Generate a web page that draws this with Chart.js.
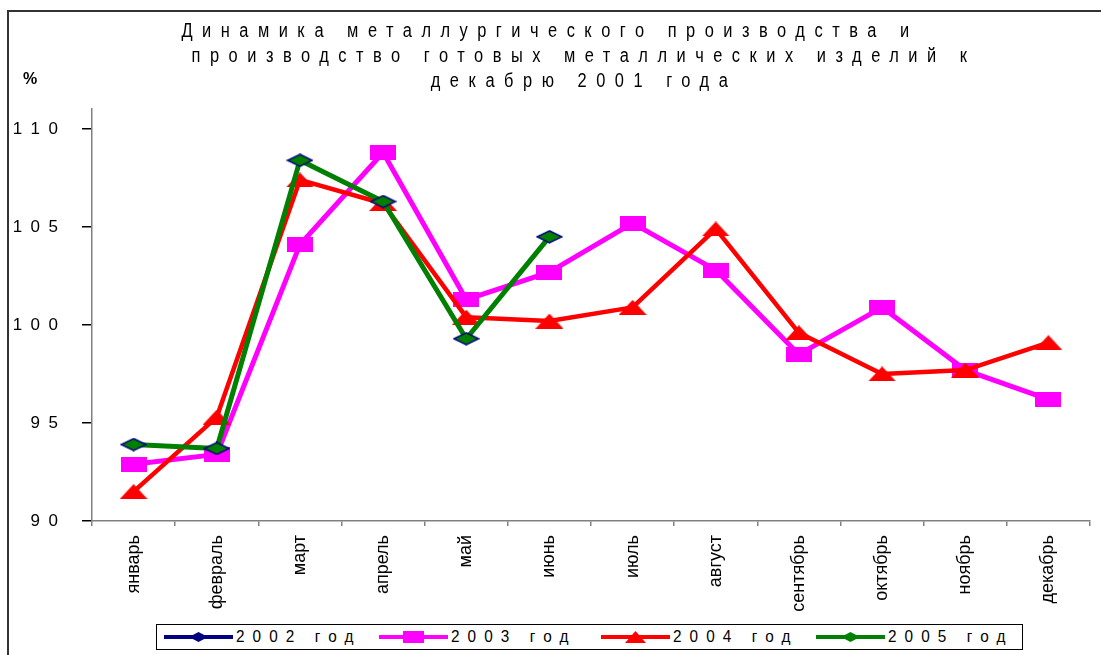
<!DOCTYPE html>
<html lang="ru">
<head>
<meta charset="utf-8">
<title>Динамика металлургического производства</title>
<script src="https://cdn.jsdelivr.net/npm/chart.js@4.4.1/dist/chart.umd.min.js"></script>
<style>
    html, body { margin: 0; padding: 0; background: #fff; }
    #wrap {
        position: relative;
        width: 1101px;
        height: 655px;
        overflow: hidden;
        font-family: "Liberation Sans", Arial, sans-serif;
        color: #000;
    }
    #frame {
        position: absolute;
        left: 7px;
        top: 10px;
        width: 1200px;
        height: 800px;
        border-left: 2px solid #333;
        border-top: 2px solid #333;
    }
    #chart { position: absolute; left: 0; top: 0; }
    .title-line {
        position: absolute;
        transform: translateX(-50%) scaleX(0.82);
        white-space: nowrap;
        font-size: 20px;
        letter-spacing: 11.6px;
        line-height: 22px;
    }
    #pct {
        position: absolute;
        left: 23px;
        top: 70px;
        font: bold 16px "Liberation Sans", Arial, sans-serif;
    }
    #legend {
        position: absolute;
        left: 156px;
        top: 624px;
        width: 867px;
        height: 26px;
        border: 1px solid #000;
        box-sizing: border-box;
        background: #fff;
    }
    .item { position: absolute; top: 0; height: 24px; }
    .item .line { position: absolute; left: 0; top: 10px; width: 69px; height: 4px; }
    .item canvas { position: absolute; left: 24px; top: 6px; }
    .item .txt {
        position: absolute;
        left: 72px;
        top: 1px;
        white-space: nowrap;
        font-size: 17px;
        letter-spacing: 9px;
        line-height: 22px;
        transform-origin: left center;
        transform: scaleX(0.9);
    }
</style>
</head>
<body>
<div id="wrap">
    <div id="frame"></div>
    <canvas id="chart" width="1101" height="655"></canvas>
    <div class="title-line" style="left:550px; top:19px;">Динамика металлургического производства и</div>
    <div class="title-line" style="left:584px; top:44px;">производство готовых металлических изделий к</div>
    <div class="title-line" style="left:584px; top:69px;">декабрю 2001 года</div>
    <div id="pct">%</div>
    <div id="legend"></div>
</div>
<script>
const months = ['январь', 'февраль', 'март', 'апрель', 'май', 'июнь',
    'июль', 'август', 'сентябрь', 'октябрь', 'ноябрь', 'декабрь'];

const seriesNames = ['2002 год', '2003 год', '2004 год', '2005 год'];

// 2002 has no visible points on the chart, only a legend entry
const values2002 = [];
const values2003 = [92.9, 93.4, 104.1, 108.8, 101.3, 102.7, 105.2, 102.8, 98.5, 100.9, 97.7, 96.2];
const values2004 = [91.5, 95.3, 107.4, 106.2, 100.4, 100.2, 100.9, 104.9, 99.6, 97.5, 97.7, 99.1];
const values2005 = [93.9, 93.7, 108.4, 106.3, 99.3, 104.5, null, null, null, null, null, null];

const yTicks = [90, 95, 100, 105, 110];

(function () {
    function makeMarker(shape, w, h, fill, stroke) {
        const c = document.createElement('canvas');
        c.width = w;
        c.height = h;
        const g = c.getContext('2d');
        g.fillStyle = fill;
        g.beginPath();
        if (shape === 'square') {
            g.rect(0, 0, w, h);
        } else if (shape === 'triangle') {
            g.moveTo(w / 2, 0);
            g.lineTo(w, h);
            g.lineTo(0, h);
        } else {
            g.moveTo(w / 2, 1);
            g.lineTo(w - 1, h / 2);
            g.lineTo(w / 2, h - 1);
            g.lineTo(1, h / 2);
        }
        g.closePath();
        g.fill();
        if (stroke) {
            g.strokeStyle = stroke;
            g.lineWidth = 1.5;
            g.stroke();
        }
        return c;
    }

    const styles = [
        { color: '#000080', shape: 'diamond', fill: '#000080', stroke: null, width: 5, w: 27, h: 14 },
        { color: '#FF00FF', shape: 'square', fill: '#FF00FF', stroke: null, width: 5, w: 26, h: 15 },
        { color: '#FF0000', shape: 'triangle', fill: '#FF0000', stroke: null, width: 4.5, w: 28, h: 15 },
        { color: '#008000', shape: 'diamond', fill: '#008000', stroke: '#000080', width: 5, w: 27, h: 14 },
    ];
    const allValues = [values2002, values2003, values2004, values2005];

    const datasets = allValues.map((vals, i) => {
        const s = styles[i];
        return {
            label: seriesNames[i],
            data: vals,
            borderColor: s.color,
            backgroundColor: s.fill,
            borderWidth: s.width,
            tension: 0,
            fill: false,
            spanGaps: false,
            pointStyle: makeMarker(s.shape, s.w, s.h, s.fill, s.stroke),
            pointRadius: 8,
            borderJoinStyle: 'round',
            // later years are drawn on top
            order: 3 - i,
        };
    });

    const ctx = document.getElementById('chart').getContext('2d');

    new Chart(ctx, {
        type: 'line',
        data: { labels: months, datasets },
        options: {
            responsive: false,
            animation: false,
            layout: {
                autoPadding: false,
                padding: { top: 109, right: 11, bottom: 0, left: 0 },
            },
            plugins: {
                legend: { display: false },
                title: { display: false },
                tooltip: { enabled: false },
            },
            scales: {
                x: {
                    offset: true,
                    grid: {
                        offset: true,
                        drawOnChartArea: false,
                        tickLength: 5,
                        color: '#808080',
                        lineWidth: 1.5,
                    },
                    border: { color: '#808080', width: 1.5 },
                    ticks: {
                        autoSkip: false,
                        minRotation: 90,
                        maxRotation: 90,
                        padding: 9,
                        color: '#000',
                        font: { family: 'Liberation Sans', size: 18 },
                    },
                    afterFit(scale) {
                        scale.height = 134;
                    },
                },
                y: {
                    min: 90,
                    max: 111.02,
                    afterBuildTicks(scale) {
                        scale.ticks = yTicks.map((v) => ({ value: v }));
                    },
                    grid: {
                        drawOnChartArea: false,
                        tickLength: 10,
                        color: '#000',
                        lineWidth: 1.5,
                    },
                    border: { color: '#808080', width: 1.5 },
                    ticks: {
                        padding: 24,
                        color: '#000',
                        font: { family: 'Liberation Sans', size: 17 },
                        callback(value) {
                            return String(value).split('').join('\u2002');
                        },
                    },
                    afterFit(scale) {
                        scale.width = 92;
                    },
                },
            },
        },
    });

    // legend box in the style of the original
    const legendLefts = [7, 222, 444, 659];
    const legend = document.getElementById('legend');
    styles.forEach((s, i) => {
        const item = document.createElement('div');
        item.className = 'item';
        item.style.left = legendLefts[i] + 'px';

        const line = document.createElement('div');
        line.className = 'line';
        line.style.background = s.color;
        item.appendChild(line);

        const mk = makeMarker(s.shape, 21, 12, s.fill, null);
        item.appendChild(mk);

        const txt = document.createElement('div');
        txt.className = 'txt';
        txt.textContent = seriesNames[i];
        item.appendChild(txt);

        legend.appendChild(item);
    });
})();
</script>
</body>
</html>
